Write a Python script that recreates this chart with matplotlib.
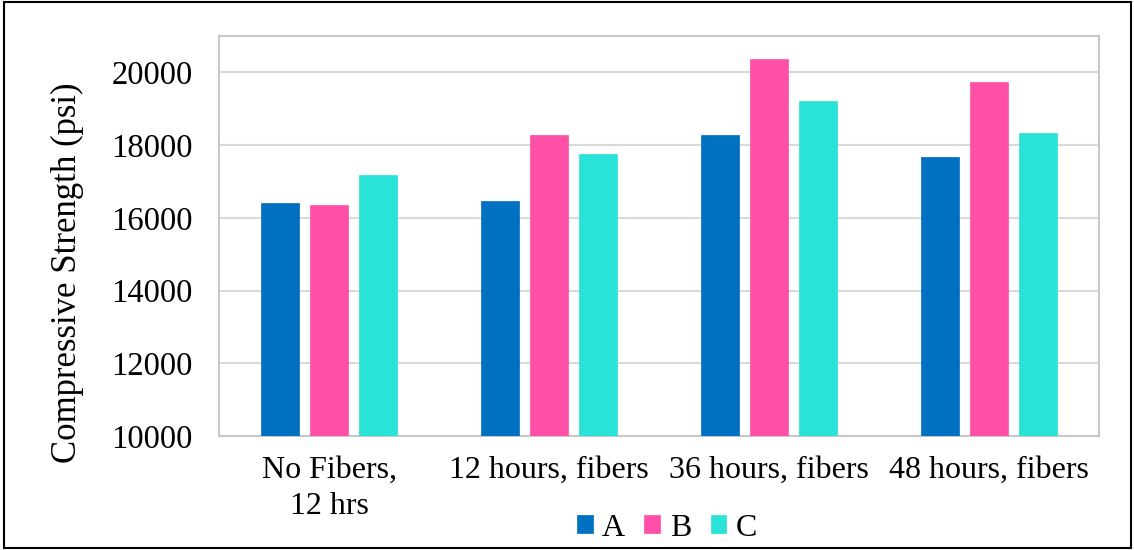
import matplotlib
matplotlib.use("Agg")
import matplotlib.pyplot as plt
import numpy as np
from matplotlib.patches import Rectangle

categories = ["No Fibers,\n12 hrs", "12 hours, fibers", "36 hours, fibers", "48 hours, fibers"]
series_names = ["A", "B", "C"]
values_A = [16420, 16450, 18275, 17660]
values_B = [16345, 18280, 20360, 19730]
values_C = [17180, 17750, 19200, 18320]
colors = ["#0070C0", "#FF4FA7", "#29E3D8"]
yticks = [10000, 12000, 14000, 16000, 18000, 20000]

plt.rcParams['font.family'] = ['Liberation Serif', 'DejaVu Serif']

fig = plt.figure(figsize=(11.34, 5.5), dpi=100)
ax = fig.add_axes([219/1134, 114/550, 880/1134, 400/550])

x = np.arange(len(categories))
width = 38/220
step = 49/220
for i, (vals, name) in enumerate(zip([values_A, values_B, values_C], series_names)):
    ax.bar(x + (i - 1) * step, vals, width=width, color=colors[i], label=name, zorder=3,
           edgecolor=colors[i], linewidth=0.5)

ax.set_xlim(-0.5, len(categories) - 0.5)
ax.set_ylim(10000, 21000)
ax.set_yticks(yticks)
ax.set_yticklabels([str(v) for v in yticks], fontsize=23.5)
ax.set_xticks(x)
ax.set_xticklabels(categories, fontsize=23, linespacing=1.35)
ax.tick_params(axis='y', length=0, pad=19)
ax.tick_params(axis='x', length=0, pad=14)
ax.grid(axis='y', color='#d9d9d9', linewidth=1.5, zorder=0)
for s in ax.spines.values():
    s.set_color('#c8c8c8')
    s.set_linewidth(1.5)

fig.text(67/1134, 1 - 272.5/550, "Compressive Strength (psi)", rotation=90,
         ha='center', va='center', fontsize=25)

fig.legend(loc='center', bbox_to_anchor=(667/1134, 22/550), ncol=3, frameon=False,
           fontsize=23, handlelength=0.5, handleheight=0.5, handletextpad=0.3,
           columnspacing=0.6)

fig.patches.append(Rectangle((4/1134, 2/550), 1127/1134, 546/550, transform=fig.transFigure,
                             fill=False, edgecolor='black', linewidth=1.5))

fig.savefig("out.png", dpi=100)
